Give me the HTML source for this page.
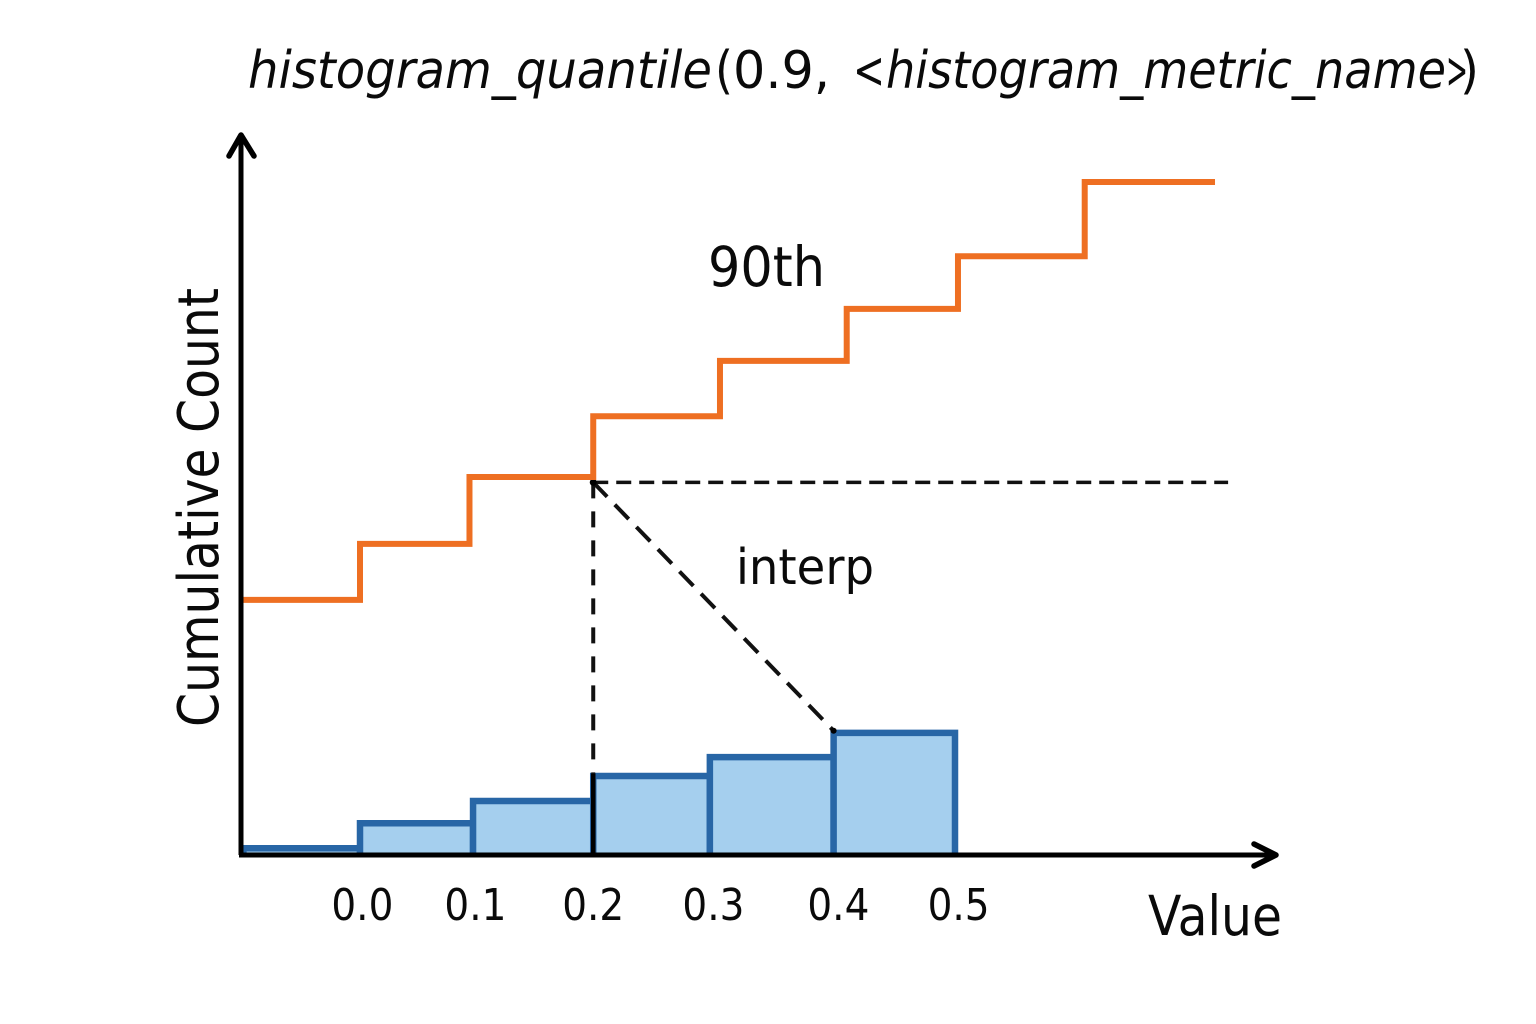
<!DOCTYPE html>
<html lang="en">
<head>
<meta charset="utf-8">
<title>histogram_quantile chart</title>
<style>
html,body{margin:0;padding:0;background:#fff}
svg{display:block}
text{font-family:"DejaVu Sans","Liberation Sans",sans-serif;fill:#0a0a0a}
</style>
</head>
<body>
<svg id="chart" width="1536" height="1024" viewBox="0 0 1536 1024" xmlns="http://www.w3.org/2000/svg">
  <rect x="0" y="0" width="1536" height="1024" fill="#ffffff"/>
  <g>
    <text x="248" y="88" font-size="52" font-style="italic" textLength="464" lengthAdjust="spacingAndGlyphs">histogram_quantile</text>
    <text x="715" y="88" font-size="52" textLength="18" lengthAdjust="spacingAndGlyphs">(</text>
    <text x="733" y="88" font-size="52" textLength="97" lengthAdjust="spacingAndGlyphs">0.9,</text>
    <text x="853" y="88" font-size="52" textLength="32" lengthAdjust="spacingAndGlyphs">&lt;</text>
    <text x="886" y="88" font-size="52" font-style="italic" textLength="560" lengthAdjust="spacingAndGlyphs">histogram_metric_name</text>
    <text x="1446" y="88" font-size="52" textLength="22" lengthAdjust="spacingAndGlyphs">&gt;</text>
    <text x="1460" y="88" font-size="52" textLength="19" lengthAdjust="spacingAndGlyphs">)</text>
  </g>
  <g id="bars"></g>
  <g id="guides"></g>
  <g id="cumulative"></g>
  <g id="axes">
    <polyline points="241,855 241,136" fill="none" stroke="#000" stroke-width="5"/>
    <polyline points="239,855 1275,855" fill="none" stroke="#000" stroke-width="5"/>
    <polyline points="229,156 241,135 254,156" fill="none" stroke="#000" stroke-width="5.5" stroke-linecap="round" stroke-linejoin="round"/>
    <polyline points="1254,844 1276,855 1254,866" fill="none" stroke="#000" stroke-width="5.5" stroke-linecap="round" stroke-linejoin="round"/>
  </g>
  <g id="ticks"></g>
  <text x="0" y="0" transform="translate(218,727) rotate(-90)" font-size="56" textLength="439" lengthAdjust="spacingAndGlyphs">Cumulative Count</text>
  <text x="1148" y="935" font-size="55" textLength="134" lengthAdjust="spacingAndGlyphs">Value</text>
  <text x="708" y="286" font-size="55" textLength="117" lengthAdjust="spacingAndGlyphs">90th</text>
  <text x="736" y="584" font-size="49" textLength="138" lengthAdjust="spacingAndGlyphs">interp</text>
</svg>
<script>
// Bin edges and bar heights (value units / count units)
const binEdges = [-0.098, 0, 0.095, 0.196, 0.294, 0.398, 0.5];
const binCounts = [1.0, 4.7, 8.0, 11.7, 14.5, 18.1];
// Cumulative step line
const stepEdges = [-0.098, 0, 0.092, 0.196, 0.3025, 0.409, 0.5025, 0.609, 0.7185];
const stepCounts = [37.8, 46.1, 56.0, 65.0, 73.2, 80.9, 88.7, 99.7];
// Tick labels
const tickValues = [0.002, 0.097, 0.196, 0.297, 0.402, 0.503];
const tickLabels = ['0.0', '0.1', '0.2', '0.3', '0.4', '0.5'];
// Quantile guide values
const quantileValue = [0.196];
const quantileCount = [55.2];
const guideEndValue = [0.7295];
const interpEndValue = [0.398];
const interpEndCount = [18.4];
const barGuideTopCount = [12.1];

const SVG_NS = 'http://www.w3.org/2000/svg';
function x(v) { return 360 + v * 1190; }
function y(c) { return 855 - c * 6.75; }
function make(tag, parent, props) {
  const el = document.createElementNS(SVG_NS, tag);
  for (const k in props) el.setAttribute(k, props[k]);
  parent.appendChild(el);
  return el;
}

const barsG = document.getElementById('bars');
binCounts.forEach(function (c, i) {
  const x0 = x(binEdges[i]), x1 = x(binEdges[i + 1]);
  const r = make('path', barsG, {
    d: 'M' + x0 + ' ' + y(0) + 'V' + y(c) + 'H' + x1 + 'V' + y(0),
    fill: '#a5cfee',
    stroke: '#2866a6',
    'stroke-width': 6.5
  });
  
  
});

const guidesG = document.getElementById('guides');
const qx = x(quantileValue[0]), qy = y(quantileCount[0]);
const dashH = make('line', guidesG, { x1: qx, y1: qy, x2: x(guideEndValue[0]), y2: qy, stroke: '#111', 'stroke-width': 3.5, 'stroke-dasharray': '15 8' });


const dashV = make('line', guidesG, { x1: qx, y1: qy, x2: qx, y2: y(barGuideTopCount[0]), stroke: '#111', 'stroke-width': 4, 'stroke-dasharray': '16 13' });


const dashD = make('line', guidesG, { x1: qx, y1: qy, x2: x(interpEndValue[0]), y2: y(interpEndCount[0]), stroke: '#111', 'stroke-width': 4, 'stroke-dasharray': '20 11' });


const solidV = make('line', guidesG, { x1: qx, y1: y(barGuideTopCount[0]), x2: qx, y2: y(0), stroke: '#000', 'stroke-width': 4.5 });


const dotA = make('circle', guidesG, { cx: qx, cy: qy, r: 3.5, fill: '#000' });


const dotB = make('circle', guidesG, { cx: x(interpEndValue[0]), cy: y(interpEndCount[0]), r: 3, fill: '#000' });



const cumG = document.getElementById('cumulative');
let d = 'M' + x(stepEdges[0]) + ' ' + y(stepCounts[0]);
stepCounts.forEach(function (c, i) {
  d += 'V' + y(c) + 'H' + x(stepEdges[i + 1]);
});
const stepLine = make('path', cumG, { d: d, fill: 'none', stroke: '#ee6f22', 'stroke-width': 6 });



const ticksG = document.getElementById('ticks');
tickLabels.forEach(function (label, i) {
  const t = make('text', ticksG, {
    x: x(tickValues[i]) - 31,
    y: 920,
    'font-size': 44,
    textLength: 62,
    lengthAdjust: 'spacingAndGlyphs'
  });
  t.textContent = label;
  
  
});
</script>
</body>
</html>
